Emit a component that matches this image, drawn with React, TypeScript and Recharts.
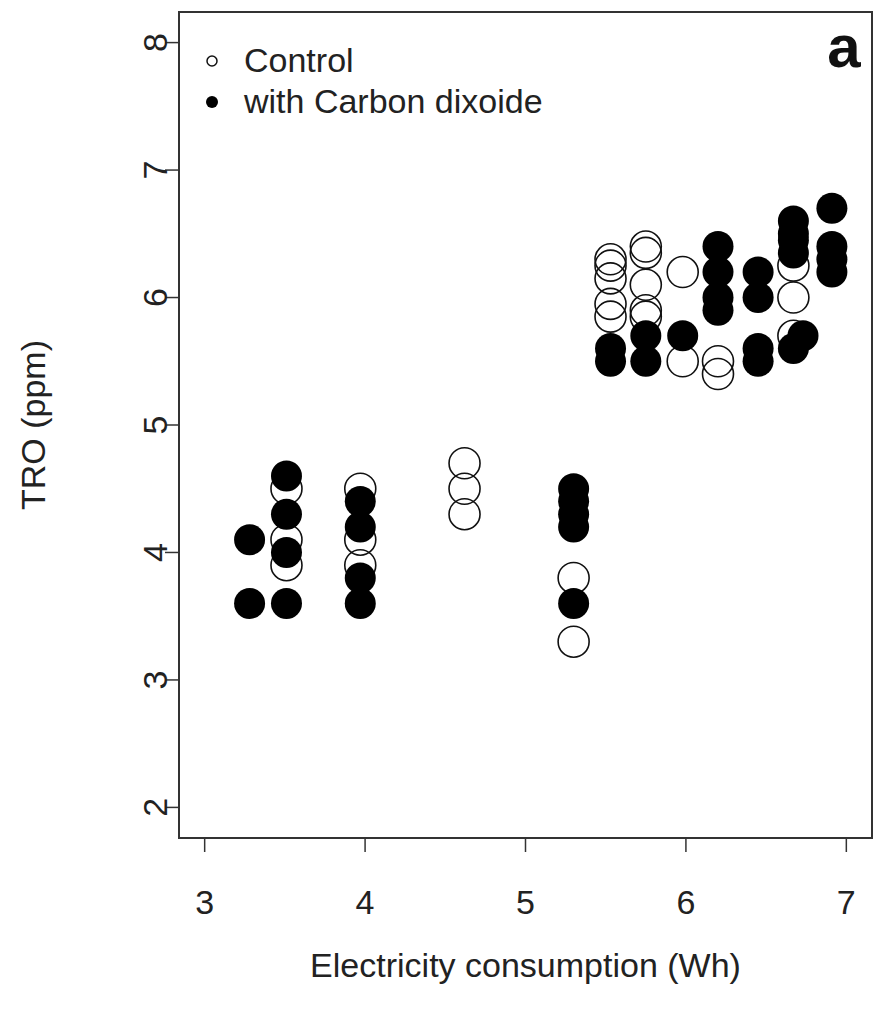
import {
	Legend,
	ReferenceArea,
	Scatter,
	ScatterChart,
	XAxis,
	YAxis,
} from "recharts";

// Electricity consumption (Wh) of each measurement column
const electricity = [3.28, 3.51, 3.97, 4.62, 5.3, 5.53, 5.75, 5.98, 6.2, 6.45, 6.67, 6.73, 6.91];

// TRO (ppm) readings per column, control runs
const controlTRO: number[][] = [
	[],
	[4.5, 4.1, 3.9],
	[4.5, 4.1, 3.9],
	[4.7, 4.5, 4.3],
	[3.8, 3.3],
	[6.3, 6.25, 6.15, 5.95, 5.85],
	[6.4, 6.35, 6.1, 5.9, 5.85],
	[6.2, 5.5],
	[5.5, 5.4],
	[],
	[6.25, 6.0, 5.7],
	[],
	[],
];

// TRO (ppm) readings per column, runs with carbon dioxide
const co2TRO: number[][] = [
	[4.1, 3.6],
	[4.6, 4.3, 4.0, 3.6],
	[4.4, 4.2, 3.8, 3.6],
	[],
	[4.5, 4.4, 4.3, 4.2, 3.6],
	[5.6, 5.5],
	[5.7, 5.5],
	[5.7],
	[6.4, 6.2, 6.0, 5.9],
	[6.2, 6.0, 5.6, 5.5],
	[6.6, 6.5, 6.45, 6.35, 5.6],
	[5.7],
	[6.7, 6.4, 6.3, 6.2],
];

const xTicks = [3, 4, 5, 6, 7];
const yTicks = [2, 3, 4, 5, 6, 7, 8];
const seriesNames = ["Control", "with Carbon dixoide"];

const FONT = "'Liberation Sans', Arial, sans-serif";
const INK = "#222";
const R = 15.5;

function toPoints(values: number[][]) {
	return values.flatMap((col, i) => col.map((y) => ({ x: electricity[i], y })));
}

const controlData = toPoints(controlTRO);
const co2Data = toPoints(co2TRO);

const OpenDot = (props: any) => (
	<circle cx={props.cx} cy={props.cy} r={R} fill="none" stroke="#111" strokeWidth={1.6} />
);

const FilledDot = (props: any) => <circle cx={props.cx} cy={props.cy} r={R} fill="#000" />;

const XTick = ({ x, y, payload }: any) => (
	<text x={x} y={y + 62} textAnchor="middle" fontSize={34} fontFamily={FONT} fill={INK}>
		{payload.value}
	</text>
);

const YTick = ({ x, y, payload }: any) => (
	<text
		transform={`translate(${x + 2},${y}) rotate(-90)`}
		textAnchor="middle"
		fontSize={34}
		fontFamily={FONT}
		fill={INK}
	>
		{payload.value}
	</text>
);

const LegendBox = () => (
	<div style={{ fontFamily: FONT, fontSize: 34, color: INK, lineHeight: "41px" }}>
		{seriesNames.map((name, i) => (
			<div key={name} style={{ display: "flex", alignItems: "center", height: 41 }}>
				<svg width={14} height={14} style={{ marginRight: 25 }}>
					{i === 0 ? (
						<circle cx={7} cy={7} r={5} fill="none" stroke="#111" strokeWidth={1.5} />
					) : (
						<circle cx={7} cy={7} r={6} fill="#000" />
					)}
				</svg>
				<span>{name}</span>
			</div>
		))}
	</div>
);

const PanelTag = ({ viewBox }: any) => (
	<text
		x={viewBox.x + viewBox.width - 28}
		y={viewBox.y + 55}
		textAnchor="middle"
		fontSize={60}
		fontWeight="bold"
		fontFamily={FONT}
		fill="#111"
	>
		a
	</text>
);

export default function App() {
	return (
		<div style={{ position: "absolute", left: 0, top: 0, background: "#fff" }}>
			<ScatterChart width={873} height={1014} margin={{ top: 12, right: 1, bottom: 0, left: 0 }}>
				<XAxis
					type="number"
					dataKey="x"
					domain={[2.84, 7.16]}
					ticks={xTicks}
					allowDataOverflow
					axisLine={false}
					tickLine={{ stroke: "#333", strokeWidth: 1.5 }}
					tickSize={14}
					tickMargin={0}
					tick={<XTick />}
					height={176}
					label={{
						value: "Electricity consumption (Wh)",
						position: "insideBottom",
						offset: 37,
						fontSize: 34,
						fontFamily: FONT,
						fill: INK,
					}}
				/>
				<YAxis
					type="number"
					dataKey="y"
					domain={[1.76, 8.24]}
					ticks={yTicks}
					allowDataOverflow
					axisLine={false}
					tickLine={{ stroke: "#333", strokeWidth: 1.5 }}
					tickSize={14}
					tickMargin={0}
					tick={<YTick />}
					width={179}
					label={{
						content: ({ viewBox }: any) => (
							<text
								transform={`translate(45,${viewBox.y + viewBox.height / 2}) rotate(-90)`}
								textAnchor="middle"
								fontSize={34}
								fontFamily={FONT}
								fill={INK}
							>
								TRO (ppm)
							</text>
						),
					}}
				/>
				<ReferenceArea
					x1={2.84}
					x2={7.16}
					y1={1.76}
					y2={8.24}
					fill="none"
					stroke="#333"
					strokeWidth={2}
					label={PanelTag}
				/>
				<Scatter name="Control" data={controlData} shape={OpenDot} isAnimationActive={false} />
				<Scatter name="with Carbon dixoide" data={co2Data} shape={FilledDot} isAnimationActive={false} />
				<Legend
					layout="horizontal"
					verticalAlign="middle"
					align="center"
					content={<LegendBox />}
					wrapperStyle={{ top: 40, left: 205, width: "auto", height: "auto" }}
				/>
			</ScatterChart>
		</div>
	);
}
